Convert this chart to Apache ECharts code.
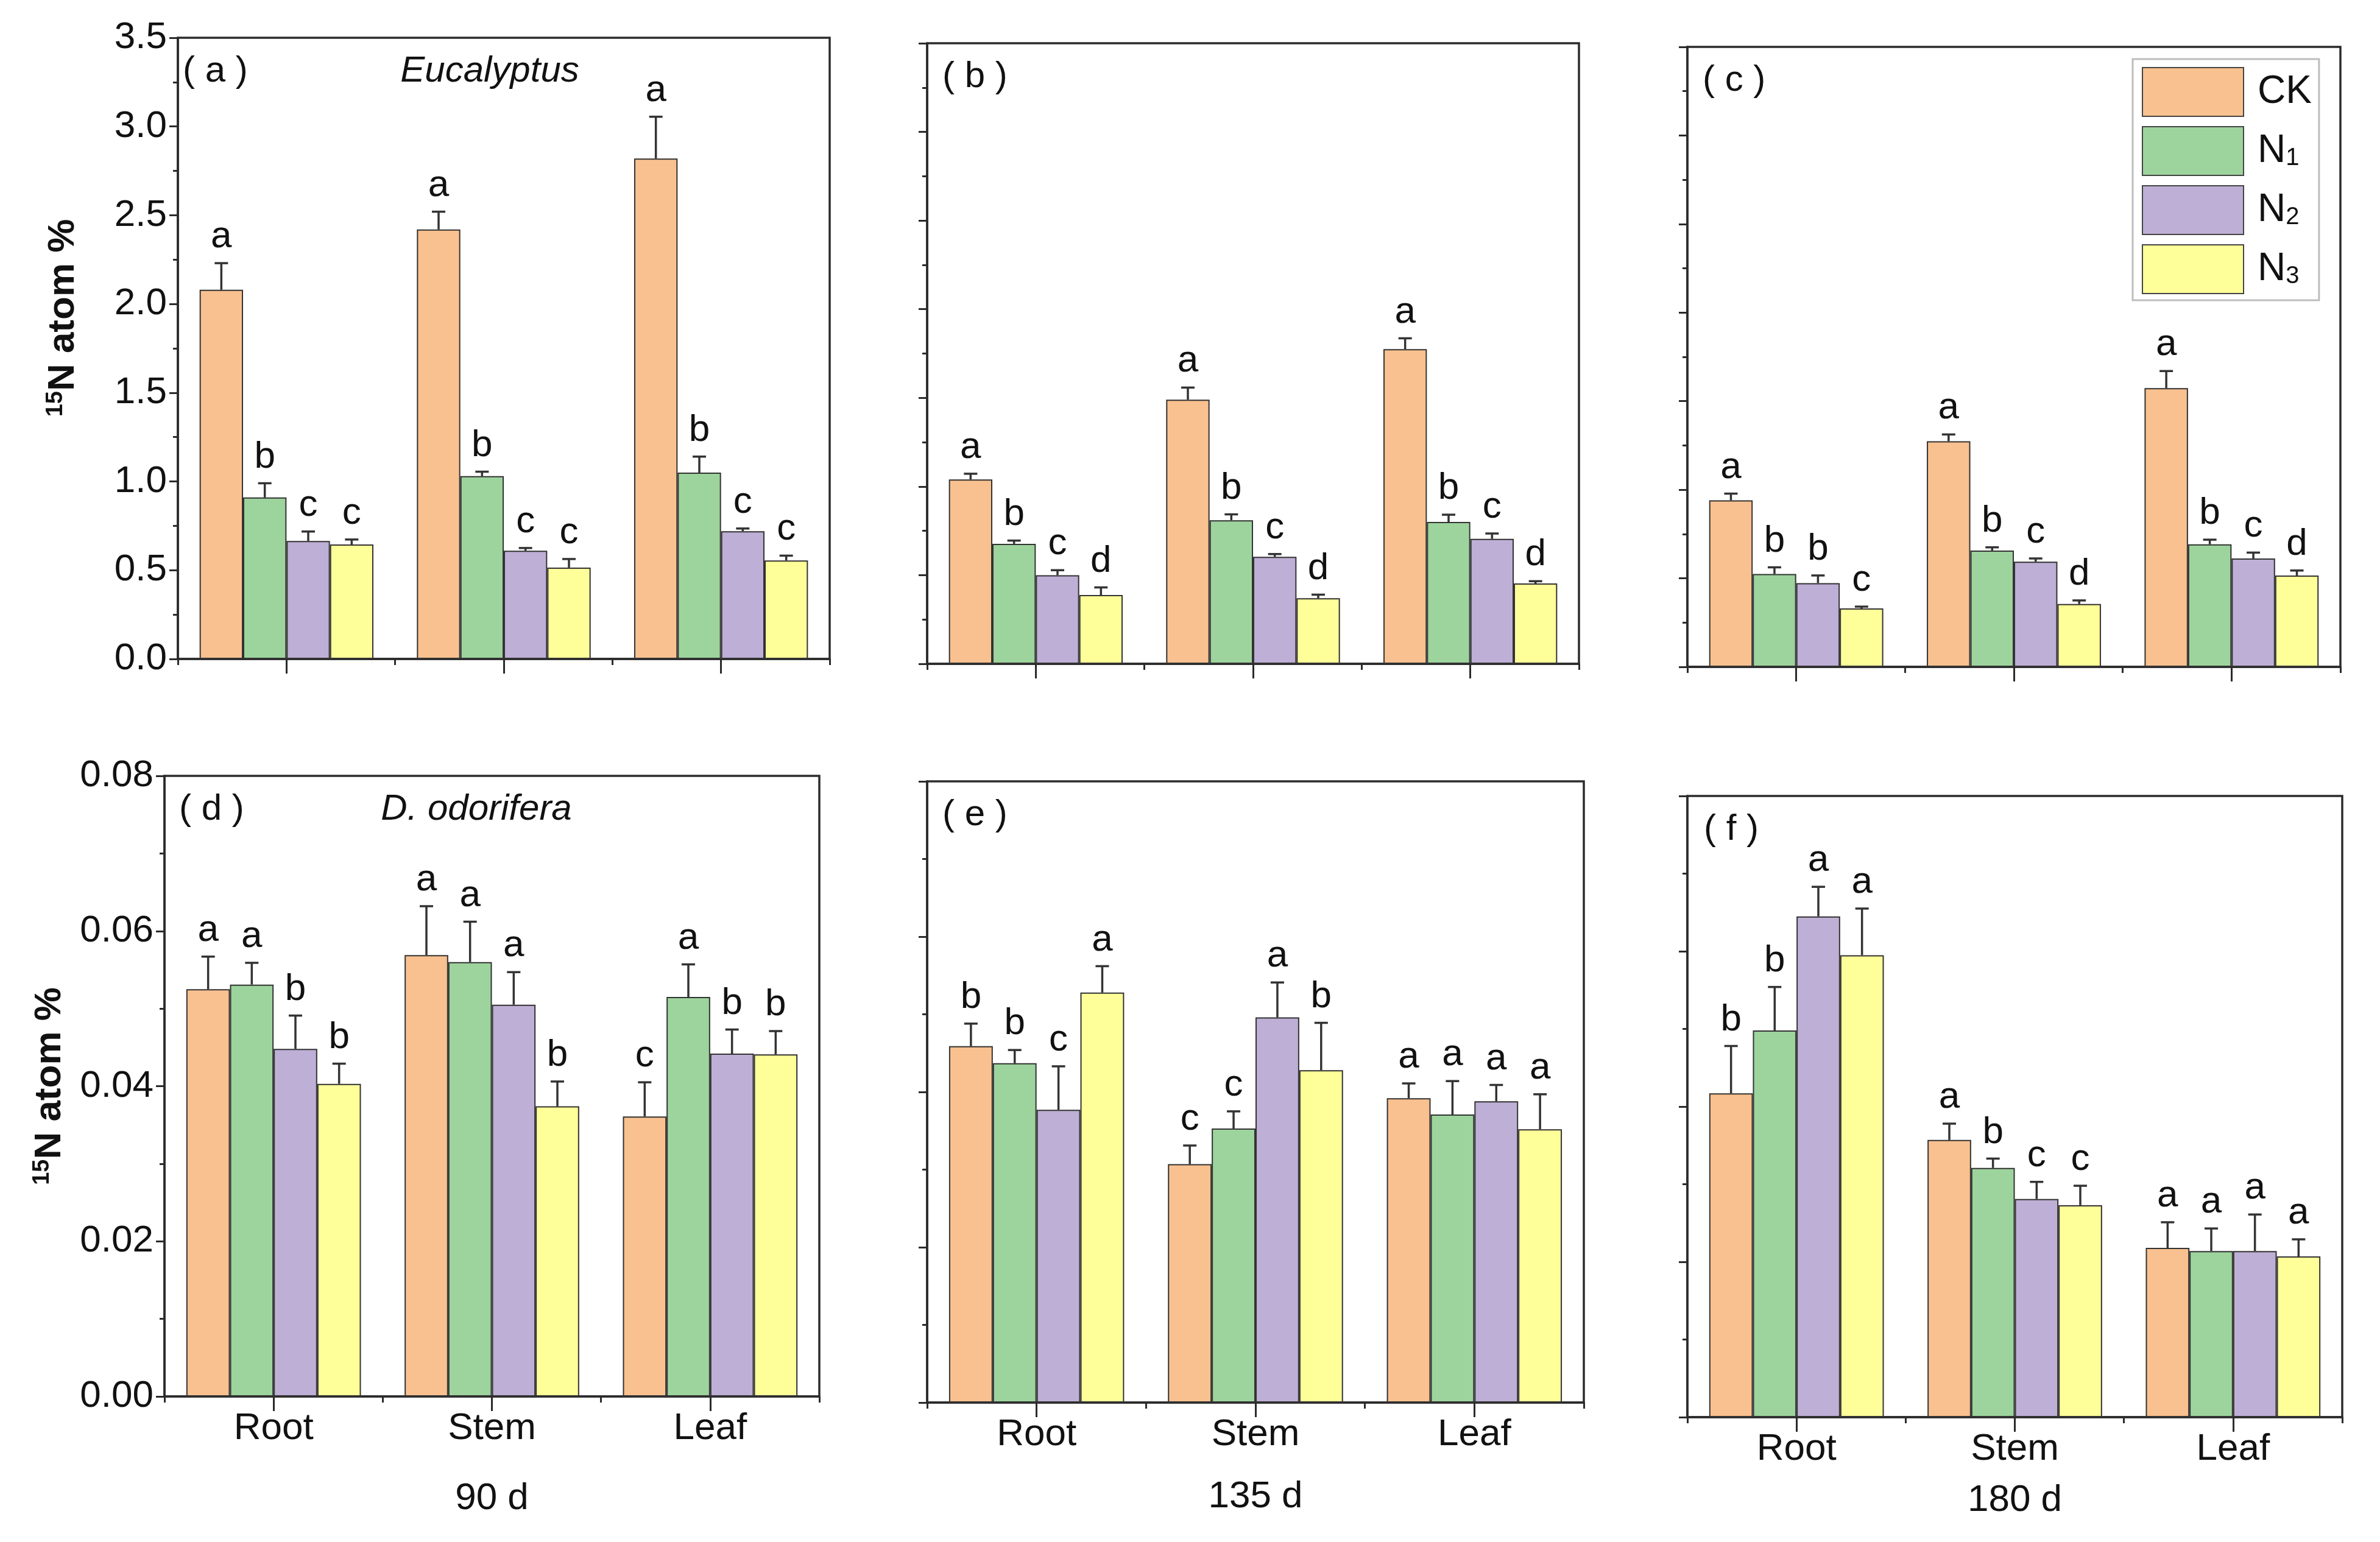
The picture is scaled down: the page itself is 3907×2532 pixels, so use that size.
<!DOCTYPE html>
<html><head><meta charset="utf-8">
<script src="https://cdn.jsdelivr.net/npm/echarts@6/dist/echarts.min.js"></script>
<style>html,body{margin:0;padding:0;background:#fff}#c{width:3907px;height:2532px}</style>
</head><body><div id="c"></div>
<script>
const organs = ['Root', 'Stem', 'Leaf'];
const treatments = ['CK', 'N1', 'N2', 'N3'];
const dayLabels = ['90 d', '135 d', '180 d'];
const panelTags = ['( a )', '( b )', '( c )', '( d )', '( e )', '( f )'];
const speciesNames = ['Eucalyptus', 'D. odorifera'];
const topRowTicks = { min: 0, max: 3.5, interval: 0.5 };
const bottomRowTicks = { min: 0, max: 0.08, interval: 0.02 };

// Eucalyptus, rows = CK, N1, N2, N3 ; columns = Root, Stem, Leaf
const euc90Mean = [[2.08, 2.42, 2.82], [0.91, 1.03, 1.05], [0.665, 0.61, 0.72], [0.645, 0.515, 0.555]];
const euc90Err  = [[0.15, 0.10, 0.235], [0.08, 0.025, 0.09], [0.053, 0.015, 0.015], [0.028, 0.048, 0.027]];
const euc90Sig  = [['a', 'a', 'a'], ['b', 'b', 'b'], ['c', 'c', 'c'], ['c', 'c', 'c']];

const euc135Mean = [[1.04, 1.49, 1.775], [0.677, 0.81, 0.80], [0.50, 0.604, 0.705], [0.388, 0.37, 0.453]];
const euc135Err  = [[0.032, 0.068, 0.061], [0.018, 0.033, 0.041], [0.028, 0.015, 0.03], [0.043, 0.02, 0.013]];
const euc135Sig  = [['a', 'a', 'a'], ['b', 'b', 'b'], ['c', 'c', 'c'], ['d', 'd', 'd']];

const euc180Mean = [[0.94, 1.274, 1.574], [0.524, 0.657, 0.692], [0.473, 0.594, 0.612], [0.33, 0.355, 0.516]];
const euc180Err  = [[0.038, 0.038, 0.096], [0.038, 0.018, 0.026], [0.043, 0.018, 0.033], [0.01, 0.02, 0.028]];
const euc180Sig  = [['a', 'a', 'a'], ['b', 'b', 'b'], ['b', 'c', 'c'], ['c', 'd', 'd']];

// D. odorifera
const dal90Mean = [[0.0525, 0.0569, 0.0361], [0.0531, 0.0560, 0.0515], [0.0448, 0.0505, 0.0442], [0.0403, 0.0374, 0.0441]];
const dal90Err  = [[0.0042, 0.0063, 0.0044], [0.0028, 0.0052, 0.0042], [0.0043, 0.0042, 0.0031], [0.0026, 0.0032, 0.0030]];
const dal90Sig  = [['a', 'a', 'c'], ['a', 'a', 'a'], ['b', 'a', 'b'], ['b', 'b', 'b']];

const dal135Mean = [[0.0459, 0.0307, 0.0392], [0.0437, 0.0353, 0.0371], [0.0377, 0.0496, 0.0388], [0.0528, 0.0428, 0.0352]];
const dal135Err  = [[0.0029, 0.0024, 0.0019], [0.0017, 0.0022, 0.0043], [0.0056, 0.0045, 0.0021], [0.0034, 0.0061, 0.0045]];
const dal135Sig  = [['b', 'c', 'a'], ['b', 'c', 'a'], ['c', 'a', 'a'], ['a', 'b', 'a']];

const dal180Mean = [[0.0417, 0.0357, 0.0218], [0.0498, 0.0321, 0.0214], [0.0645, 0.0281, 0.0214], [0.0595, 0.0273, 0.0207]];
const dal180Err  = [[0.0061, 0.0021, 0.0033], [0.0056, 0.0012, 0.0029], [0.0038, 0.0022, 0.0047], [0.0060, 0.0025, 0.0022]];
const dal180Sig  = [['b', 'a', 'a'], ['b', 'b', 'a'], ['a', 'c', 'a'], ['a', 'c', 'a']];

const FONT = "'Liberation Sans', Arial, Helvetica, sans-serif";
const colors = ['#F9C18F', '#9DD49D', '#BEAFD6', '#FFFF99'];
const AX = '#2b2b2b';

const panels = [
  { mean: euc90Mean, err: euc90Err, sig: euc90Sig, tagDx: 8, grid: { left: 292, top: 62, width: 1070, height: 1020 } },
  { mean: euc135Mean, err: euc135Err, sig: euc135Sig, tagDx: 25, grid: { left: 1522, top: 71, width: 1070, height: 1019 } },
  { mean: euc180Mean, err: euc180Err, sig: euc180Sig, tagDx: 25, grid: { left: 2770, top: 77, width: 1072, height: 1018 } },
  { mean: dal90Mean, err: dal90Err, sig: dal90Sig, tagDx: 24, grid: { left: 270, top: 1274, width: 1075, height: 1019 } },
  { mean: dal135Mean, err: dal135Err, sig: dal135Sig, tagDx: 25, grid: { left: 1522, top: 1283, width: 1078, height: 1020 } },
  { mean: dal180Mean, err: dal180Err, sig: dal180Sig, tagDx: 27, grid: { left: 2770, top: 1307, width: 1075, height: 1020 } }
];
const dayNameGap = [137, 124, 106];

const grids = [], xAxes = [], yAxes = [], series = [], graphics = [];

panels.forEach((p, gi) => {
  const bottomRow = gi >= 3;
  const ticks = bottomRow ? bottomRowTicks : topRowTicks;
  grids.push(Object.assign({ show: true, borderColor: AX, borderWidth: 3.5, backgroundColor: 'transparent' }, p.grid));
  // main category axis: ticks at centres, labels
  xAxes.push({
    gridIndex: gi, type: 'category', data: organs, position: 'bottom',
    axisLine: { show: true, lineStyle: { color: AX, width: 3.5 } },
    axisTick: { show: true, alignWithLabel: true, length: 24, lineStyle: { color: AX, width: 3 } },
    axisLabel: { show: bottomRow, fontSize: 62, fontFamily: FONT, color: '#111', margin: 22 },
    name: bottomRow ? dayLabels[gi - 3] : '', nameLocation: 'middle', nameGap: bottomRow ? dayNameGap[gi - 3] : 0,
    nameTextStyle: { fontSize: 62, fontFamily: FONT, color: '#111' },
    splitLine: { show: false }
  });
  // secondary category axis: short ticks at category boundaries
  xAxes.push({
    gridIndex: gi, type: 'category', data: organs, position: 'bottom',
    axisLine: { show: false }, axisLabel: { show: false },
    axisTick: { show: true, length: 10, lineStyle: { color: AX, width: 3 } },
    splitLine: { show: false }
  });
  const showLab = gi === 0 || gi === 3;
  yAxes.push({
    gridIndex: gi, type: 'value', min: ticks.min, max: ticks.max, interval: ticks.interval,
    axisLine: { show: true, lineStyle: { color: AX, width: 3.5 } },
    axisTick: { show: true, length: 14, lineStyle: { color: AX, width: 3 } },
    minorTick: { show: true, splitNumber: 2, length: 8, lineStyle: { color: AX, width: 3 } },
    splitLine: { show: false },
    axisLabel: {
      show: showLab, fontSize: 62, fontFamily: FONT, color: '#111', margin: 18,
      formatter: v => v.toFixed(bottomRow ? 2 : 1)
    },
    name: showLab ? '{sup|15}{n|N atom %}' : '', nameLocation: 'middle', nameRotate: 90,
    nameGap: 157,
    nameTextStyle: {
      fontFamily: FONT, color: '#111',
      padding: gi === 0 ? [0, 0, 0, 100] : 0,
      rich: {
        sup: { fontSize: 38, fontWeight: 'bold', fontFamily: FONT, verticalAlign: 'top', lineHeight: 38, color: '#111' },
        n: { fontSize: 62, fontWeight: 'bold', fontFamily: FONT, lineHeight: 62, color: '#111' }
      }
    }
  });

  treatments.forEach((t, ti) => {
    series.push({
      type: 'bar', name: t, xAxisIndex: gi * 2, yAxisIndex: gi,
      data: p.mean[ti], barGap: '0%', barCategoryGap: '20%',
      itemStyle: { color: colors[ti], borderColor: '#333', borderWidth: 2 },
      emphasis: { disabled: true }, z: 2
    });
  });
  treatments.forEach((t, ti) => {
    series.push({
      type: 'custom', xAxisIndex: gi * 2, yAxisIndex: gi, z: 5, silent: true,
      data: organs.map((o, k) => [k, p.mean[ti][k], p.err[ti][k]]),
      renderItem: (params, api) => {
        const k = api.value(0), m = api.value(1), e = api.value(2);
        const base = api.coord([k, m]);
        const top = api.coord([k, m + e]);
        const band = api.size([1, 0])[0];
        const bw = band * 0.8 / 4;
        const x = base[0] + (ti - 1.5) * bw;
        const cap = 11;
        return {
          type: 'group', children: [
            { type: 'line', shape: { x1: x, y1: base[1], x2: x, y2: top[1] }, style: { stroke: '#333', lineWidth: 3.5 } },
            { type: 'line', shape: { x1: x - cap, y1: top[1], x2: x + cap, y2: top[1] }, style: { stroke: '#333', lineWidth: 3.5 } },
            { type: 'text', style: { text: p.sig[ti][params.dataIndex], x: x, y: top[1] - 12, align: 'center', verticalAlign: 'bottom', fontSize: 62, fontFamily: FONT, fill: '#111' } }
          ]
        };
      }
    });
  });

  graphics.push({
    type: 'text', x: p.grid.left + p.tagDx, y: p.grid.top + 55,
    style: { text: panelTags[gi], fontSize: 60, fontFamily: FONT, fill: '#111', align: 'left', verticalAlign: 'middle' }
  });
  if (gi === 0 || gi === 3) {
    graphics.push({
      type: 'text', x: p.grid.left + 512, y: p.grid.top + 55,
      style: { text: speciesNames[gi === 0 ? 0 : 1], fontSize: 60, fontStyle: 'italic', fontFamily: FONT, fill: '#111', align: 'center', verticalAlign: 'middle' }
    });
  }
});

const chart = echarts.init(document.getElementById('c'), null, { renderer: 'canvas' });
chart.setOption({
  backgroundColor: '#fff',
  animation: false,
  grid: grids, xAxis: xAxes, yAxis: yAxes, series: series,
  graphic: graphics,
  legend: {
    data: treatments, orient: 'vertical', left: 3501, top: 97,
    itemWidth: 166, itemHeight: 80, itemGap: 15, padding: [13, 12, 10, 15],
    borderColor: '#bdbdbd', borderWidth: 3, backgroundColor: '#fff',
    icon: 'rect', selectedMode: false,
    itemStyle: { borderColor: '#444', borderWidth: 2 },
    formatter: n => n === 'CK' ? '{g|}{n|CK}' : '{g|}{n|N}{s|' + n[1] + '}',
    textStyle: {
      fontFamily: FONT, color: '#111',
      rich: {
        g: { width: 18 },
        n: { fontSize: 64, fontFamily: FONT, lineHeight: 64, verticalAlign: 'bottom', color: '#111' },
        s: { fontSize: 40, fontFamily: FONT, lineHeight: 30, verticalAlign: 'bottom', color: '#111' }
      }
    }
  }
});
</script></body></html>
